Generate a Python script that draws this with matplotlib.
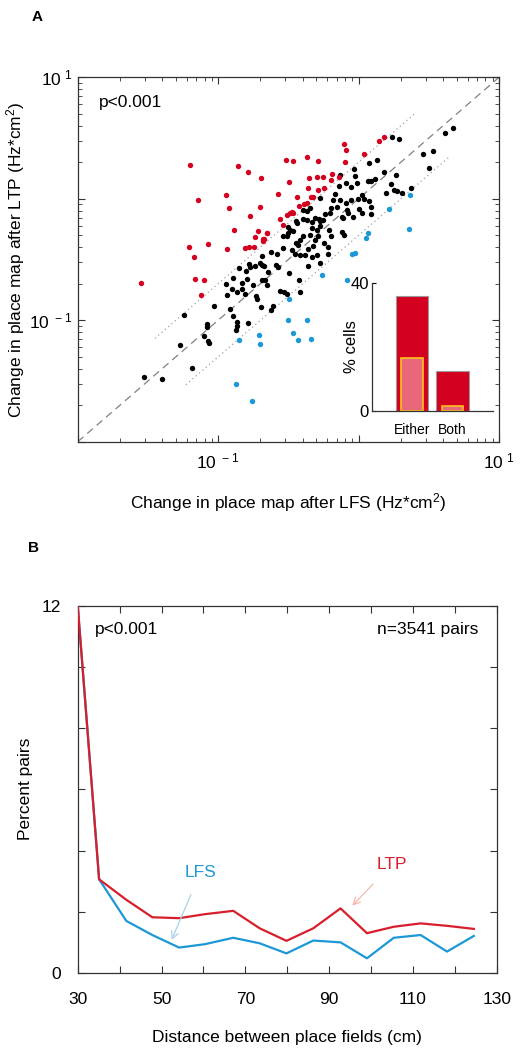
import matplotlib
matplotlib.use('Agg')
import numpy as np
import matplotlib.pyplot as plt
from matplotlib.ticker import FixedLocator, FixedFormatter, NullFormatter, LogLocator

plt.rcParams['font.family'] = ['Liberation Sans', 'DejaVu Sans']
plt.rcParams['mathtext.fontset'] = 'custom'
plt.rcParams['mathtext.rm'] = 'Liberation Sans'

# ---- panel A: log10 of place map change (LFS on x, LTP on y) ----
red_lx = [-1.200, -0.856, -0.785, -0.694, -0.571, -1.143, -0.944, -0.922, -0.702, -0.775,
          -0.885, -0.716, -0.650, -0.735, -0.673, -0.682, -1.207, -1.074, -0.939, -0.808,
          -0.780, -0.746, -1.170, -1.165, -1.100, -1.547, -1.120, -0.514, -0.464, -0.369,
          -0.286, -0.101, -0.089, -0.094, 0.037, 0.148, 0.182, -0.497, -0.350, -0.293,
          -0.251, -0.191, -0.198, -0.137, -0.358, -0.291, -0.244, -0.436, -0.338, -0.322,
          -0.369, -0.422, -0.386, -0.476, -0.488, -0.464, -0.511, -0.559, -0.536, -0.654,
          -0.678]
red_ly = [0.277, 0.272, 0.222, 0.173, 0.036, -0.008, 0.028, -0.079, -0.066, -0.140,
          -0.255, -0.268, -0.280, -0.315, -0.329, -0.346, -0.400, -0.375, -0.416, -0.403,
          -0.400, -0.400, -0.480, -0.663, -0.669, -0.696, -0.793, 0.319, 0.310, 0.346,
          0.310, 0.450, 0.401, 0.305, 0.365, 0.477, 0.505, 0.140, 0.168, 0.181,
          0.176, 0.203, 0.154, 0.181, 0.091, 0.072, 0.086, 0.016, 0.016, 0.012,
          -0.033, -0.058, -0.046, -0.107, -0.120, -0.115, -0.134, -0.170, -0.219, -0.285,
          -0.329]

blue_lx = [-0.709, -0.849, -0.702, -0.873, -0.759, -0.504, -0.369, -0.469, -0.431, -0.338,
           -0.493, -0.260, -0.080, -0.046, -0.027, 0.367, 0.217, 0.362, 0.066, 0.051]
blue_ly = [-1.122, -1.163, -1.196, -1.523, -1.663, -1.001, -1.001, -1.103, -1.163, -1.157,
           -0.828, -0.630, -0.672, -0.455, -0.449, 0.030, -0.085, -0.252, -0.285, -0.326]

black_lx = [-0.625, -0.685, -0.853, -0.778, -0.773, -0.803, -0.702, -0.689, -0.735, -0.671,
            -0.642, -0.590, -0.571, -0.894, -0.794, -0.828, -0.749, -0.687, -0.666, -0.944,
            -0.903, -0.868, -0.830, -0.811, -0.650, -0.937, -0.730, -0.725, -0.559, -1.031,
            -0.917, -0.692, -0.611, -0.625, -0.892, -1.243, -1.081, -1.077, -0.863, -0.868,
            -0.789, -0.875, -1.098, -1.070, -1.063, -1.271, -1.188, -1.526, -1.400, 0.236,
            0.291, 0.616, 0.671, 0.462, 0.533, 0.504, 0.075, 0.130, -0.030, -0.025,
            -0.013, 0.182, 0.267, 0.070, 0.089, 0.117, 0.231, 0.253, 0.272, 0.194,
            0.308, 0.372, -0.132, -0.089, -0.053, -0.139, -0.167, -0.274, -0.180, -0.132,
            -0.053, -0.001, 0.075, 0.087, 0.006, 0.027, -0.089, -0.080, -0.073, -0.037,
            -0.120, -0.108, -0.155, -0.196, -0.203, -0.239, -0.279, -0.394, -0.369, -0.346,
            -0.446, -0.436, -0.505, -0.488, -0.464, -0.540, -0.512, -0.500, -0.208, -0.198,
            -0.219, -0.215, -0.120, -0.103, -0.583, 0.023, 0.039, 0.087, -0.394, -0.369,
            -0.333, -0.310, -0.274, -0.255, -0.331, -0.296, -0.274, -0.345, -0.310, -0.395,
            -0.417, -0.289, -0.246, -0.324, -0.360, -0.431, -0.381, -0.331, -0.296, -0.417,
            -0.538, -0.474, -0.445, -0.452, -0.274, -0.358, -0.424, -0.417, -0.493, -0.530,
            -0.511]
black_ly = [-0.439, -0.469, -0.570, -0.537, -0.560, -0.593, -0.527, -0.546, -0.551, -0.554,
            -0.601, -0.546, -0.560, -0.650, -0.661, -0.696, -0.713, -0.672, -0.672, -0.700,
            -0.746, -0.770, -0.746, -0.784, -0.710, -0.795, -0.801, -0.826, -0.757, -0.883,
            -0.908, -0.891, -0.881, -0.916, -0.968, -0.960, -1.031, -1.053, -1.012, -1.045,
            -1.025, -1.081, -1.130, -1.169, -1.190, -1.207, -1.396, -1.465, -1.486, 0.505,
            0.491, 0.543, 0.579, 0.368, 0.393, 0.257, 0.296, 0.316, 0.247, 0.187,
            0.127, 0.217, 0.195, 0.146, 0.143, 0.162, 0.119, 0.072, 0.063, 0.049,
            0.044, 0.086, 0.195, 0.127, 0.094, 0.105, 0.039, 0.008, -0.011, -0.011,
            -0.011, 0.000, -0.019, -0.066, -0.082, -0.120, -0.038, -0.093, -0.120, -0.148,
            -0.148, -0.161, -0.066, -0.079, -0.120, -0.126, -0.167, -0.093, -0.099, -0.079,
            -0.183, -0.202, -0.230, -0.258, -0.266, -0.307, -0.307, -0.285, -0.258, -0.307,
            -0.395, -0.455, -0.272, -0.299, -0.455, 0.030, -0.005, -0.128, -0.167, -0.175,
            -0.189, -0.159, -0.181, -0.175, -0.241, -0.258, -0.225, -0.299, -0.340, -0.307,
            -0.340, -0.307, -0.365, -0.389, -0.414, -0.381, -0.463, -0.480, -0.463, -0.463,
            -0.405, -0.422, -0.362, -0.455, -0.532, -0.554, -0.669, -0.765, -0.614, -0.770,
            -0.784]

# inset: % cells
inset_cats = ['Either', 'Both']
inset_outer = [36.0, 12.5]
inset_inner = [16.6, 1.5]

# ---- panel B ----
dist_cm = [30, 35.1, 41.6, 47.8, 54.2, 60.3, 67.1, 73.4, 79.8, 86.2, 92.7, 99.0, 105.4, 111.8, 118.1, 124.5]
ltp_pct = [12, 3.06, 2.39, 1.82, 1.79, 1.92, 2.03, 1.46, 1.05, 1.46, 2.11, 1.30, 1.51, 1.62, 1.54, 1.44]
lfs_pct = [12, 3.06, 1.70, 1.24, 0.83, 0.94, 1.15, 0.97, 0.64, 1.06, 1.00, 0.48, 1.15, 1.24, 0.70, 1.21]

RED = '#d4001f'
BLUE = '#1b98d5'
FS = 12.5

fig = plt.figure(figsize=(5.22, 10.52), dpi=100)

# ================= panel A =================
ax = fig.add_axes([0.1489, 0.5801, 0.807, 0.3464])
ax.set_xscale('log')
ax.set_yscale('log')
ax.set_xlim(1e-2, 1e1)
ax.set_ylim(1e-2, 1e1)

lims = np.array([1e-2, 1e1])
ax.plot(lims, lims, color='#808080', lw=0.9, dashes=(6, 4), zorder=1)
up = np.array([10 ** -1.45, 10 ** 0.40])
lo = np.array([10 ** -1.23, 10 ** 0.64])
ax.plot(up, up * 2, color='#a0a0a0', lw=0.9, ls=(0, (1, 2.5)), zorder=1)
ax.plot(lo, lo / 2, color='#a0a0a0', lw=0.9, ls=(0, (1, 2.5)), zorder=1)

ax.scatter(10 ** np.array(black_lx), 10 ** np.array(black_ly), s=15, c='black', lw=0, zorder=3)
ax.scatter(10 ** np.array(red_lx), 10 ** np.array(red_ly), s=15, c=RED, lw=0, zorder=3)
ax.scatter(10 ** np.array(blue_lx), 10 ** np.array(blue_ly), s=15, c=BLUE, lw=0, zorder=3)

decades = [1e-2, 1e-1, 1e0, 1e1]
dec_labels = ['', r'$\mathregular{10^{\ -1}}$', '', r'$\mathregular{10^{\ 1}}$']
for axis in (ax.xaxis, ax.yaxis):
    axis.set_major_locator(FixedLocator(decades))
    axis.set_major_formatter(FixedFormatter(dec_labels))
    axis.set_minor_locator(LogLocator(base=10, subs=np.arange(2, 10)))
    axis.set_minor_formatter(NullFormatter())
ax.tick_params(which='both', direction='in', top=True, right=True, colors='#333333',
               labelcolor='black', labelsize=FS)
ax.tick_params(which='major', length=5, width=0.8)
ax.tick_params(which='minor', length=3, width=0.6)
ax.tick_params(axis='x', pad=7)
ax.tick_params(axis='y', pad=4)
for s in ax.spines.values():
    s.set_color('#333333')
    s.set_linewidth(0.9)

ax.set_xlabel(r'Change in place map after LFS (Hz*cm$\mathregular{^2}$)', fontsize=FS, labelpad=14)
ax.set_ylabel(r'Change in place map after LTP (Hz*cm$\mathregular{^2}$)', fontsize=FS, labelpad=1)
ax.text(0.05, 0.93, 'p<0.001', transform=ax.transAxes, fontsize=FS, va='center', ha='left')
fig.text(0.071, 0.984, 'A', fontsize=11, fontweight='bold', va='center', ha='center')

# inset bars
ins = fig.add_axes([0.712, 0.6096, 0.232, 0.1211])
ins.patch.set_alpha(0)
pos = np.arange(1, len(inset_cats) + 1)
ins.bar(pos, inset_outer, width=0.8, color=RED, edgecolor='#9a9a9a', linewidth=0.8)
ins.bar(pos, inset_inner, width=0.53, color='#e8687a', edgecolor='#ffc21a', linewidth=1.2)
ins.set_xlim(0, 3)
ins.set_ylim(0, 40)
ins.set_xticks(pos)
ins.set_xticklabels(inset_cats, fontsize=10)
ins.set_yticks([0, 40])
ins.set_yticklabels(['0', '40'], fontsize=12)
ins.tick_params(axis='x', length=0, pad=9)
ins.tick_params(axis='y', direction='in', length=3, pad=2)
ins.spines['top'].set_visible(False)
ins.spines['right'].set_visible(False)
for s in ('left', 'bottom'):
    ins.spines[s].set_color('#333333')
    ins.spines[s].set_linewidth(0.9)
ins.set_ylabel('% cells', fontsize=12, labelpad=-6)

# ================= panel B =================
bx = fig.add_axes([0.1489, 0.0751, 0.803, 0.3493])
bx.plot(dist_cm, lfs_pct, color=BLUE, lw=1.6, zorder=2)
bx.plot(dist_cm, ltp_pct, color='#d81e2c', lw=1.6, zorder=3)
bx.set_xlim(30, 130)
bx.set_ylim(0, 12)
bx.set_xticks(np.arange(30, 131, 10))
bx.set_xticklabels([str(v) if (v - 30) % 20 == 0 else '' for v in range(30, 131, 10)])
bx.set_yticks(np.arange(0, 13, 2))
bx.set_yticklabels(['0', '', '', '', '', '', '12'])
bx.tick_params(direction='in', top=True, right=True, length=5, width=0.8, colors='#333333',
               labelcolor='black', labelsize=FS)
bx.tick_params(axis='x', pad=14)
bx.tick_params(axis='y', pad=12)
for s in bx.spines.values():
    s.set_color('#333333')
    s.set_linewidth(0.9)
bx.set_xlabel('Distance between place fields (cm)', fontsize=FS, labelpad=16)
bx.set_ylabel('Percent pairs', fontsize=FS, labelpad=6)
bx.text(0.04, 0.935, 'p<0.001', transform=bx.transAxes, fontsize=FS, va='center', ha='left')
bx.text(0.955, 0.935, 'n=3541 pairs', transform=bx.transAxes, fontsize=FS, va='center', ha='right')

bx.annotate('LFS', xy=(52.4, 1.08), xytext=(59.2, 3.27), color=BLUE, fontsize=FS,
            ha='center', va='center',
            arrowprops=dict(arrowstyle='->', color='#a9d3ec', lw=0.9, shrinkA=9, shrinkB=0))
bx.annotate('LTP', xy=(95.5, 2.20), xytext=(104.9, 3.53), color='#d81e2c', fontsize=FS,
            ha='center', va='center',
            arrowprops=dict(arrowstyle='->', color='#f3b8aa', lw=0.9, shrinkA=9, shrinkB=0))
fig.text(0.064, 0.479, 'B', fontsize=11, fontweight='bold', va='center', ha='center')

fig.savefig('out.png', dpi=100)
